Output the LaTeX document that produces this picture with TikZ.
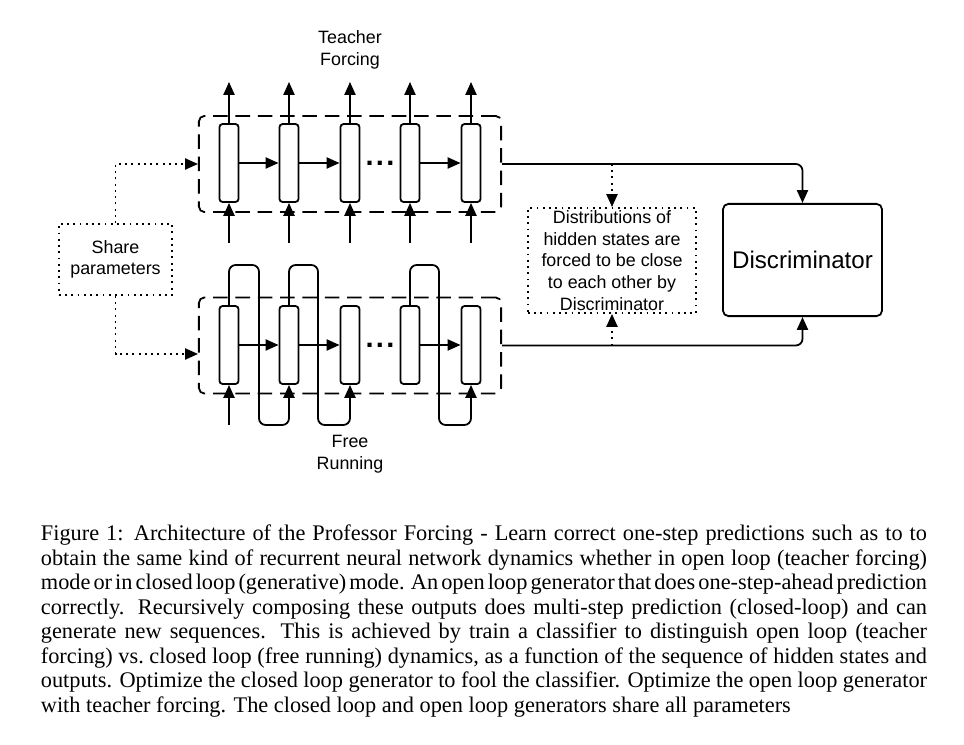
\documentclass[tikz,border=0pt]{standalone}
\usepackage{fontspec}
\setmainfont{Liberation Serif}
\newfontfamily\arialfont{Liberation Sans}
\usetikzlibrary{arrows.meta,positioning,calc}

\tikzset{
  >={Triangle[length=5.8pt,width=5pt]},
  cell/.style={draw, rounded corners=1.5pt, minimum width=8.6pt, minimum height=35pt, inner sep=0pt},
  grp/.style={draw, rounded corners=2.5pt, dash pattern=on 6.5pt off 3.5pt, minimum width=135.4pt, minimum height=43.1pt, inner sep=0pt},
  note/.style={draw, dash pattern=on 0.8pt off 2pt, align=center, inner sep=0pt, font=\arialfont\fontsize{8}{9.74}\selectfont},
  lbl/.style={align=center, font=\arialfont\fontsize{8}{9.74}\selectfont},
  dotline/.style={dash pattern=on 0.8pt off 2pt},
  ellip/.style={anchor=base, inner sep=0pt, font=\arialfont\bfseries\fontsize{13}{13}\selectfont},
}

\begin{document}
\begin{tikzpicture}[x=0.448pt, y=-0.448pt, line width=0.8pt]
    \useasboundingbox (0,0) rectangle (964,745);

    % Dashed groups
    \node[grp] (tgrp) at (350,164) {};
    \node[grp] (fgrp) at (350,345.5) {};

    % Teacher forcing cells
    \node[cell] (t1) at (229,163) {};
    \node[cell] (t2) at (289,163) {};
    \node[cell] (t3) at (350,163) {};
    \node[cell] (t4) at (410,163) {};
    \node[cell] (t5) at (471,163) {};
    \node[ellip] (tdt) at (380,166) {.\kern1pt.\kern1pt.};

    % Free running cells
    \node[cell] (f1) at (229,345) {};
    \node[cell] (f2) at (289,345) {};
    \node[cell] (f3) at (350,345) {};
    \node[cell] (f4) at (410,345) {};
    \node[cell] (f5) at (471,345) {};
    \node[ellip] (fdt) at (380,348) {.\kern1pt.\kern1pt.};

    % Labels
    \node[lbl] (tlab) at (350,50) {Teacher\\Forcing};
    \node[lbl] (flab) at (350,454) {Free\\Running};

    % Side boxes
    \node[note, minimum width=50.7pt, minimum height=31.9pt] (share) at (115.5,259.5) {Share\\parameters};
    \node[note, minimum width=75.4pt, minimum height=47.1pt] (dist) at (612,260.5) {Distributions of\\hidden states are\\forced to be close\\to each other by\\Discriminator};
    \node[draw, rounded corners=2.5pt, minimum width=71.3pt, minimum height=50.3pt, font=\arialfont\fontsize{10.8}{13}\selectfont] (disc) at (802.5,260) {Discriminator};

    % Teacher forcing outputs and inputs
    \coordinate (to1) at (229,82);
    \coordinate (to2) at (289,82);
    \coordinate (to3) at (350,82);
    \coordinate (to4) at (410,82);
    \coordinate (to5) at (471,82);
    \coordinate (ti1) at (229,243);
    \coordinate (ti2) at (289,243);
    \coordinate (ti3) at (350,243);
    \coordinate (ti4) at (410,243);
    \coordinate (ti5) at (471,243);
    \draw[->] (t1) -- (to1);
    \draw[->] (t2) -- (to2);
    \draw[->] (t3) -- (to3);
    \draw[->] (t4) -- (to4);
    \draw[->] (t5) -- (to5);
    \draw[->] (ti1) -- (t1);
    \draw[->] (ti2) -- (t2);
    \draw[->] (ti3) -- (t3);
    \draw[->] (ti4) -- (t4);
    \draw[->] (ti5) -- (t5);
    \draw[->] (t1) -- (t2);
    \draw[->] (t2) -- (t3);
    \draw[->] (t4) -- (t5);

    % Free running recurrence and feedback
    \draw[->] (f1) -- (f2);
    \draw[->] (f2) -- (f3);
    \draw[->] (f4) -- (f5);
    \coordinate (fi1) at (229,425);
    \draw[->] (fi1) -- (f1);
    \coordinate (k1) at (259,265);
    \coordinate (kb1) at (289,425);
    \coordinate (k2) at (318,265);
    \coordinate (kb2) at (350,425);
    \coordinate (k3) at (439,265);
    \coordinate (kb3) at (471,425);
    \draw[->, rounded corners=3pt] (f1.north) |- (k1) |- (kb1) -- (f2.south);
    \draw[->, rounded corners=3pt] (f2.north) |- (k2) |- (kb2) -- (f3.south);
    \draw[->, rounded corners=3pt] (f4.north) |- (k3) |- (kb3) -- (f5.south);

    % To the discriminator
    \draw[->, rounded corners=3pt] (tgrp.east) -| (disc.north);
    \draw[->, rounded corners=3pt] (fgrp.east) -| (disc.south);
    \draw[dotline, ->] (dist.north |- tgrp.east) -- (dist.north);
    \draw[dotline, ->] (dist.south |- fgrp.east) -- (dist.south);

    % Shared parameters
    \coordinate (fin) at (198,354);
    \draw[dotline, ->] (share.north) |- (tgrp.west);
    \draw[dotline, ->] (share.south) |- (fin);

    % Caption
    \node[anchor=north west, text width=397pt, inner sep=0pt, align=justify, font=\fontsize{10}{11}\selectfont] (cap) at (40,524) {Figure 1: Architecture of the Professor Forcing - Learn correct one-step predictions such as to to\linebreak
    obtain the same kind of recurrent neural network dynamics whether in open loop (teacher forcing)\linebreak
    {\spaceskip=2.3pt plus 1.2pt minus 1.5pt mode or in closed loop (generative) mode. An open loop generator that does one-step-ahead \mbox{prediction}}\linebreak
    correctly. Recursively composing these outputs does multi-step prediction (closed-loop) and can\linebreak
    generate new sequences. This is achieved by train a classifier to distinguish open loop (teacher\linebreak
    forcing) vs.\ closed loop (free running) dynamics, as a function of the sequence of hidden states and\linebreak
    outputs. Optimize the closed loop generator to fool the classifier. Optimize the open loop generator\linebreak
    with teacher forcing. The closed loop and open loop generators share all parameters};
\end{tikzpicture}
\end{document}
